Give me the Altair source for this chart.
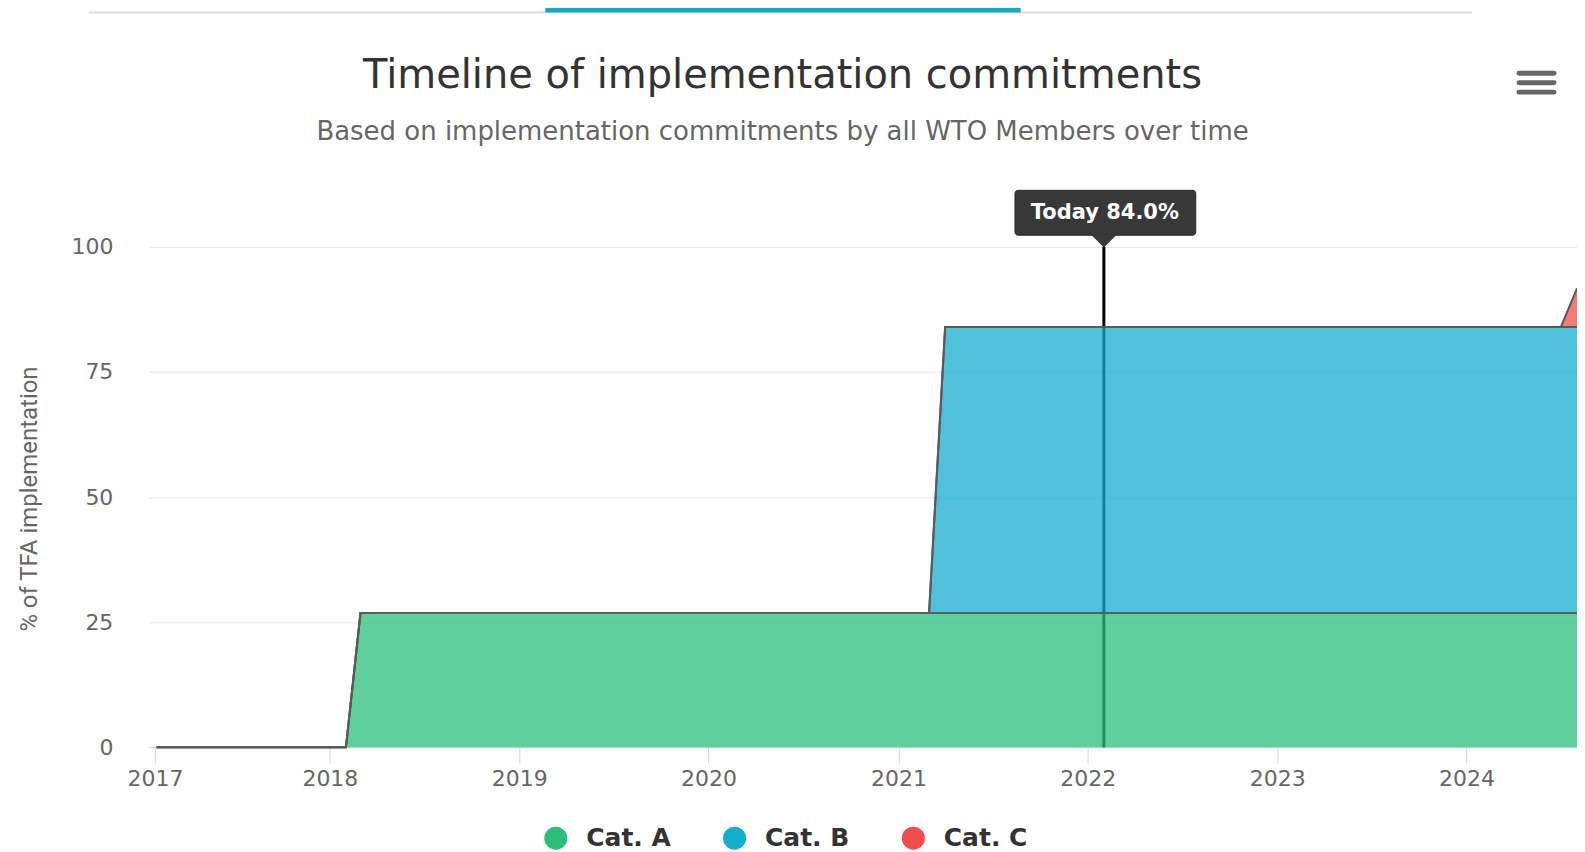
import altair as alt
import pandas as pd

# ---- data ----
dates = ["2017-02-01", "2018-02-01", "2018-03-01", "2021-03-01",
         "2021-04-01", "2024-07-01", "2024-08-01"]
cat_a = [0, 0, 26.8, 26.8, 26.8, 26.8, 26.8]
cat_b = [0, 0, 0, 0, 57.2, 57.2, 57.2]
cat_c = [0, 0, 0, 0, 0, 0, 7.7]
categories = ["Cat. A", "Cat. B", "Cat. C"]
today_date = ["2022-02-01"]
today_pct = [84.0]
year_ticks = [2017, 2018, 2019, 2020, 2021, 2022, 2023, 2024]
y_ticks = [0, 25, 50, 75, 100]

title_text = "Timeline of implementation commitments"
subtitle_text = "Based on implementation commitments by all WTO Members over time"
y_title = "% of TFA implementation"

colors = ["#2bbf7e", "#14adcc", "#f24d4d"]

rows = []
for order, (name, vals) in enumerate(zip(categories, [cat_a, cat_b, cat_c])):
    for d, v in zip(dates, vals):
        rows.append({"date": d, "cat": name, "value": v, "order": order})
df = pd.DataFrame(rows)

today_df = pd.DataFrame({"date": today_date,
                         "top": [y_ticks[-1]], "bottom": [y_ticks[0]],
                         "label": [f"Today {p:.1f}%" for p in today_pct]})
one = alt.Data(values=[{"k": 0}])

# plot origin in page coordinates
OX, OY = 149.0, 246.6
W, H = 1430, 501


def px(x):
    return x - OX


def py(y):
    return y - OY


tick_values = [alt.DateTime(year=year_ticks[0], month=1, date=29, utc=True)] + [
    alt.DateTime(year=y, month=1, date=1, utc=True) for y in year_ticks[1:]]

x_scale = alt.Scale(type="utc",
                    domain=[alt.DateTime(year=2017, month=1, date=17, utc=True),
                            alt.DateTime(year=2024, month=8, date=1, utc=True)])
x_axis = alt.Axis(values=tick_values, format="%Y", title=None, grid=False,
                  labelFont="DejaVu Sans", labelFontSize=22, labelColor="#666666",
                  tickColor="#ccd6eb", tickSize=16, tickWidth=1,
                  domainColor="#ccd6eb", domainWidth=1, labelPadding=5,
                  labelFlush=False, labelOverlap=False)
x_enc = alt.X("date:T", scale=x_scale, axis=x_axis)

y_scale = alt.Scale(domain=[0, 100], nice=False, zero=True)
y_axis = alt.Axis(values=y_ticks, title=y_title, titleFont="Roboto",
                  titleFontSize=24, titleFontWeight="normal", titleColor="#666666",
                  titleX=px(30), titleY=252, titleBaseline="middle", titleAngle=270,
                  labelFont="DejaVu Sans", labelFontSize=22, labelColor="#666666",
                  labelPadding=36, ticks=False, domain=False,
                  gridColor="#e6e6e6", gridWidth=1)

rule = alt.Chart(today_df).mark_rule(color="#000000", strokeWidth=3).encode(
    x=x_enc, y=alt.Y("top:Q", scale=y_scale, axis=y_axis), y2="bottom:Q"
)

area = alt.Chart(df).mark_area(opacity=0.75, interpolate="linear").encode(
    x=x_enc,
    y=alt.Y("value:Q", stack="zero", scale=y_scale, axis=y_axis),
    color=alt.Color(
        "cat:N",
        scale=alt.Scale(domain=categories, range=colors),
        legend=alt.Legend(
            orient="none", legendX=px(544), legendY=py(826), direction="horizontal",
            title=None, symbolType="circle", symbolSize=530, symbolOpacity=1,
            symbolStrokeWidth=0, labelFont="DejaVu Sans", labelFontWeight="bold",
            labelFontSize=25, labelColor="#333333", labelOffset=18,
            columnPadding=51, padding=0,
        ),
    ),
    order=alt.Order("order:Q"),
)

outline = alt.Chart(df).transform_stack(
    stack="value", groupby=["date"], as_=["y0", "y1"],
    sort=[alt.SortField("order", order="ascending")],
).mark_line(color="#5a5a5a", strokeWidth=2).encode(
    x=x_enc,
    y=alt.Y("y1:Q", scale=y_scale, axis=y_axis),
    detail="cat:N",
)

tip_box = alt.Chart(today_df).mark_rect(
    color="#383838", stroke="#2a2a2a", strokeWidth=1, cornerRadius=3,
    xOffset=-89, x2Offset=92,
).encode(x=x_enc, x2=alt.X2("date:T"), y=alt.value(py(190)), y2=alt.value(py(235)))

tip_arrow = alt.Chart(today_df).mark_point(
    shape="M-1,-0.5L1,-0.5L0,0.5Z", filled=True, size=625, color="#383838", opacity=1,
).encode(x=x_enc, y=alt.value(py(241)))

tip_text = alt.Chart(today_df).mark_text(
    font="DejaVu Sans", fontWeight="bold", fontSize=21, color="#ffffff",
    align="center", baseline="middle", dx=1,
).encode(x=x_enc, y=alt.value(py(212.5)), text="label:N")

title = alt.Chart(one).mark_text(
    text=title_text, font="DejaVu Sans", fontSize=40, color="#333333",
    align="center", baseline="alphabetic",
).encode(x=alt.value(px(783.5)), y=alt.value(py(88)))

subtitle = alt.Chart(one).mark_text(
    text=subtitle_text, font="DejaVu Sans", fontSize=26, color="#666666",
    align="center", baseline="alphabetic",
).encode(x=alt.value(px(783.5)), y=alt.value(py(140)))

tab_line = alt.Chart(one).mark_rule(color="#dddddd", strokeWidth=2).encode(
    x=alt.value(px(89)), x2=alt.value(px(1474)), y=alt.value(py(12)))
tab_bar = alt.Chart(one).mark_rule(color="#18a9c2", strokeWidth=5).encode(
    x=alt.value(px(546)), x2=alt.value(px(1022)), y=alt.value(py(9.5)))

menu = [
    alt.Chart(one).mark_rule(color="#666666", strokeWidth=5, strokeCap="round").encode(
        x=alt.value(px(1521)), x2=alt.value(px(1556)), y=alt.value(py(yy)))
    for yy in (72.7, 82.3, 91.7)
]

chart = alt.layer(
    rule, area, outline, tip_box, tip_arrow, tip_text, title, subtitle,
    tab_line, tab_bar, *menu
).properties(
    width=W, height=H,
    padding={"left": OX - 8, "top": OY - 8, "right": 0, "bottom": 104},
    autosize=alt.AutoSizeParams(type="none"),
).configure(font="DejaVu Sans").configure_view(stroke=None, strokeWidth=0)

chart.save("out.html", embed_options={"renderer": "svg", "actions": False})
